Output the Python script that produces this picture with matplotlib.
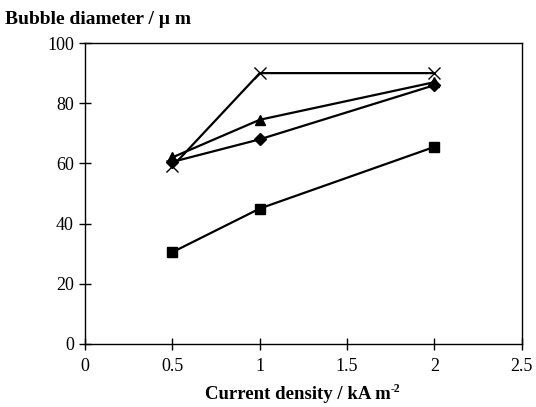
import matplotlib
matplotlib.use("Agg")
import matplotlib.pyplot as plt

current_density = [0.5, 1.0, 2.0]
series_square = [30.5, 45, 65.5]
series_triangle = [62, 74.5, 87]
series_diamond = [60.5, 68, 86]
series_cross = [59, 90, 90]

x_ticks = [0, 0.5, 1, 1.5, 2, 2.5]
x_tick_labels = ["0", "0.5", "1", "1.5", "2", "2.5"]
y_ticks = [0, 20, 40, 60, 80, 100]

plt.rcParams['font.family'] = ['Liberation Serif', 'DejaVu Serif']

fig = plt.figure(figsize=(5.36, 4.07), dpi=100)
ax = fig.add_axes([0.1586, 0.1548, 0.815, 0.7395])

lw = 1.6
ax.plot(current_density, series_square, color='black', lw=lw, marker='s', markersize=7)
ax.plot(current_density, series_cross, color='black', lw=lw, marker='x', markersize=9, markeredgewidth=1.0)
ax.plot(current_density, series_triangle, color='black', lw=lw, marker='^', markersize=7)
ax.plot(current_density, series_diamond, color='black', lw=lw, marker='D', markersize=6)

ax.set_xlim(0, 2.5)
ax.set_ylim(0, 100)
ax.set_xticks(x_ticks)
ax.set_xticklabels(x_tick_labels)
ax.set_yticks(y_ticks)
ax.tick_params(axis='both', direction='inout', length=8, width=1.0, labelsize=13, pad=4)
ax.tick_params(axis='x', pad=6)
for s in ax.spines.values():
    s.set_linewidth(1.0)

fig.text(0.01, 0.953, "Bubble diameter / \u00b5 m", fontsize=14, fontweight='bold', ha='left', va='center')
xl = fig.text(0.555, 0.03, "Current density / kA m", fontsize=13.5, fontweight='bold', ha='center', va='center')
fig.canvas.draw()
ax.annotate("-2", xy=(1.0, 1.0), xycoords=xl, xytext=(0.5, 2.5), textcoords='offset points',
            fontsize=8.5, fontweight='bold', ha='left', va='top')

fig.savefig("out.png", dpi=100)
